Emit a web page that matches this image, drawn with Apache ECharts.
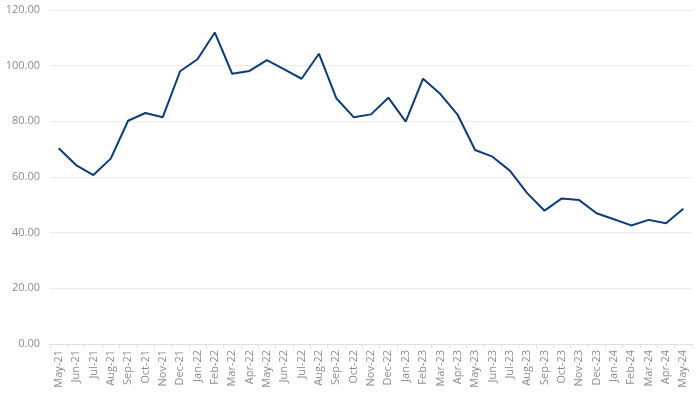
<!DOCTYPE html>
<html><head><meta charset="utf-8">
<script src="https://cdn.jsdelivr.net/npm/echarts@6/dist/echarts.min.js"></script>
<style>html,body{margin:0;padding:0;background:#fff}#c{width:700px;height:394px}</style>
</head><body><div id="c"></div>
<script>
const categories = ["May-21","Jun-21","Jul-21","Aug-21","Sep-21","Oct-21","Nov-21","Dec-21","Jan-22","Feb-22","Mar-22","Apr-22","May-22","Jun-22","Jul-22","Aug-22","Sep-22","Oct-22","Nov-22","Dec-22","Jan-23","Feb-23","Mar-23","Apr-23","May-23","Jun-23","Jul-23","Aug-23","Sep-23","Oct-23","Nov-23","Dec-23","Jan-24","Feb-24","Mar-24","Apr-24","May-24"];
const values = [70.3,64.3,60.7,66.6,80.2,83.0,81.5,98.0,102.3,111.9,97.1,98.1,102.0,98.7,95.3,104.3,88.3,81.5,82.5,88.5,79.9,95.3,89.8,82.3,69.7,67.3,62.3,54.2,47.9,52.3,51.7,47.0,44.8,42.6,44.6,43.4,48.6];
const chart = echarts.init(document.getElementById('c'));
chart.setOption({
  animation:false,
  grid:{left:50,right:8,top:10,bottom:50,containLabel:false},
  xAxis:{type:'category',data:categories,boundaryGap:true,
    axisLine:{lineStyle:{color:'#e0e0e0'}},
    axisTick:{show:true,alignWithLabel:false,length:4,lineStyle:{color:'#e0e0e0'}},
    axisLabel:{rotate:90,interval:0,color:'#8c8c8c',fontSize:11,fontFamily:'Open Sans',margin:6}},
  yAxis:{type:'value',min:0,max:120,interval:20,
    axisLabel:{formatter:v=>v.toFixed(2),color:'#8c8c8c',fontSize:11,fontFamily:'Open Sans',margin:10},
    axisLine:{show:false},axisTick:{show:false},
    splitLine:{lineStyle:{color:'#ebebeb',width:1}}},
  series:[{type:'line',data:values,symbol:'none',lineStyle:{color:'#0b3d78',width:2}}]
});
</script></body></html>
